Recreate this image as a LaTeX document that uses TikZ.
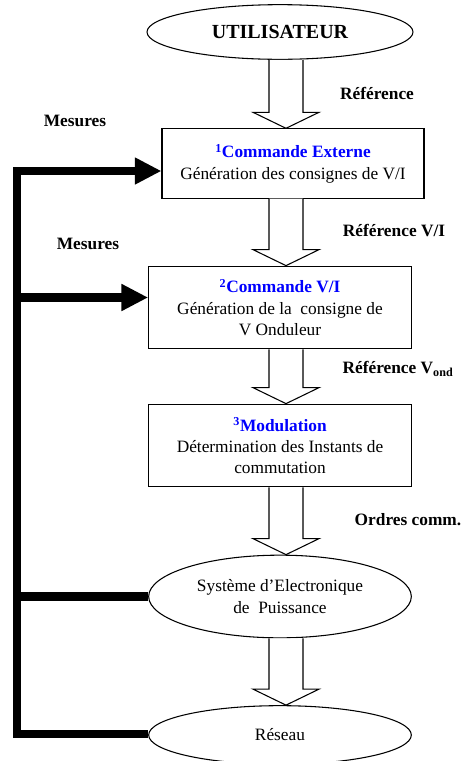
\documentclass[tikz,border=0pt]{standalone}
\usepackage{fontspec}
\setmainfont{Liberation Serif}
\usepackage{xcolor}
\usetikzlibrary{arrows.meta, calc, shapes.geometric}

% titre d'etape en bleu, avec son numero
\newcommand{\etape}[2]{\textcolor{blue}{\bfseries\textsuperscript{#1}#2}}
% grosse fleche creuse entre deux blocs
\newcommand{\fleche}[2]{%
  \draw[creux] ($(axe|-#1.south)+(-17,0)$) -- ($(axe|-#2.north)+(-17,-16)$) -- ($(axe|-#2.north)+(-33,-16)$) -- (axe|-#2.north) -- ($(axe|-#2.north)+(33,-16)$) -- ($(axe|-#2.north)+(17,-16)$) -- ($(axe|-#1.south)+(17,0)$);}

\begin{document}
\begin{tikzpicture}[x=0.75pt, y=-0.75pt,
  every node/.style={font=\fontsize{13}{16}\selectfont},
  bloc/.style={draw, line width=0.8pt, fill=white, align=center, minimum width=197pt, minimum height=62pt, inner sep=2pt},
  ovale/.style={draw, ellipse, line width=0.8pt, fill=white, align=center, minimum width=197pt, inner sep=0pt},
  lbl/.style={font=\fontsize{13}{16}\selectfont\bfseries},
  retour/.style={line width=6.5pt},
  tete/.style={-{Triangle[length=20pt, width=19pt]}},
  creux/.style={draw, line width=0.8pt, fill=white}]
  \useasboundingbox (0,0) rectangle (461,761);
  \coordinate (axe) at (286,0);
  \coordinate (bus) at (17,0);

  \node[ovale, minimum width=199.5pt, minimum height=41pt, font=\fontsize{15}{18}\selectfont\bfseries] (user) at (280,32) {UTILISATEUR};
  \node[bloc, minimum width=196.5pt, minimum height=52pt] (cmdext) at (293,163.5) {\etape{1}{Commande Externe}\\ Génération des consignes de V/I};
  \node[bloc] (cmdvi) at (280,307.5) {\etape{2}{Commande V/I}\\ Génération de la\ \ consigne de\\ V Onduleur};
  \node[bloc] (modul) at (280,445.5) {\etape{3}{Modulation}\\ Détermination des Instants de\\ commutation};
  \node[ovale, minimum height=62pt] (puiss) at (280,596.5) {Système d’Electronique\\ de\ \ Puissance};
  \node[ovale, minimum height=44pt] (reseau) at (280,735) {Réseau};

  \fleche{user}{cmdext}
  \fleche{cmdext}{cmdvi}
  \fleche{cmdvi}{modul}
  \fleche{modul}{puiss}
  \fleche{puiss}{reseau}

  % boucles de mesure
  \draw[retour, tete] ($(reseau.west)+(0,-1)$) -| ($(bus|-cmdext.west)+(0,7.5)$) -- ($(cmdext.west)+(0,7.5)$);
  \draw[retour, tete] ($(bus|-cmdvi.west)+(0,-10)$) -- ($(cmdvi.west)+(0,-10)$);
  \draw[retour] (bus|-puiss.west) -- (puiss.west);

  \node[lbl] (ref1) at (377,93) {Référence};
  \node[lbl] (mes1) at (75,121) {Mesures};
  \node[lbl] (ref2) at (394,231) {Référence V/I};
  \node[lbl] (mes2) at (88,244) {Mesures};
  \node[lbl] (ref3) at (398,369) {Référence V\textsubscript{ond}};
  \node[lbl] (ordres) at (408,520) {Ordres comm.};
\end{tikzpicture}
\end{document}
